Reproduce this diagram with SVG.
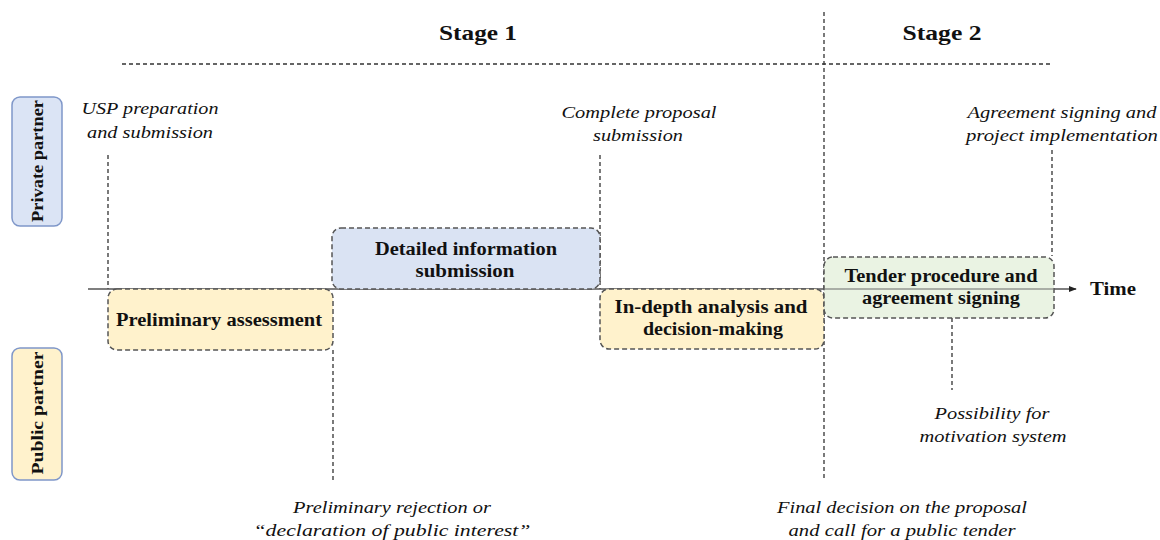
<svg xmlns="http://www.w3.org/2000/svg" width="1160" height="540" viewBox="0 0 1160 540">
<style>
.t{font-family:"Liberation Serif","Times New Roman","DejaVu Serif",serif;fill:#111}
.b{font-weight:bold;font-size:18px;text-anchor:middle}
.i{font-style:italic;font-size:17px;text-anchor:middle}
.h{font-weight:bold;font-size:22px;text-anchor:middle}
.dl{stroke:#333;stroke-width:1.3;stroke-dasharray:4 3;fill:none}
.box{stroke:#555;stroke-width:1.5;stroke-dasharray:5 3}
.lane{stroke:#7f97c9;stroke-width:1.5}
</style>
<defs>
<marker id="arr" viewBox="0 0 10 10" refX="9" refY="5" markerWidth="8" markerHeight="8" orient="auto" markerUnits="userSpaceOnUse">
<path d="M0,1 L10,5 L0,9 z" fill="#222"/>
</marker>
</defs>
<rect width="1160" height="540" fill="#fff"/>
<text class="t h" x="478" y="40" textLength="78" lengthAdjust="spacingAndGlyphs">Stage 1</text>
<text class="t h" x="942" y="40" textLength="79" lengthAdjust="spacingAndGlyphs">Stage 2</text>
<g id="connectors">
<line class="dl" x1="122" y1="64" x2="1052" y2="64"/>
<line class="dl" x1="824" y1="12" x2="824" y2="478"/>
<line class="dl" x1="108" y1="155" x2="108" y2="289"/>
<line class="dl" x1="600" y1="155" x2="600" y2="289"/>
<line class="dl" x1="1052" y1="150" x2="1052" y2="256"/>
<line class="dl" x1="333" y1="350" x2="333" y2="480"/>
<line class="dl" x1="952" y1="318" x2="952" y2="390"/>
<line x1="88" y1="289" x2="1076" y2="289" stroke="#555" stroke-width="1.3" marker-end="url(#arr)"/>
</g>
<g id="private-partner">
<rect class="lane" x="12" y="97" width="50" height="129" rx="8" fill="#dbe4f5"/>
<text class="t" font-weight="bold" font-size="17" text-anchor="middle" textLength="122" lengthAdjust="spacingAndGlyphs" transform="translate(43,161) rotate(-90)">Private partner</text>
</g>
<g id="public-partner">
<rect class="lane" x="12" y="348" width="50" height="132" rx="8" fill="#fff2cc"/>
<text class="t" font-weight="bold" font-size="17" text-anchor="middle" textLength="123" lengthAdjust="spacingAndGlyphs" transform="translate(43,413) rotate(-90)">Public partner</text>
</g>
<g id="preliminary-assessment">
<rect class="box" x="108" y="289" width="225" height="61" rx="9" fill="#fff2cc"/>
<text class="t b" x="219" y="326" textLength="206" lengthAdjust="spacingAndGlyphs">Preliminary assessment</text>
</g>
<g id="detailed-information">
<rect class="box" x="332" y="228" width="268" height="61" rx="9" fill="#dae3f3"/>
<text class="t b" x="466" y="255" textLength="182" lengthAdjust="spacingAndGlyphs">Detailed information</text>
<text class="t b" x="465" y="277" textLength="99" lengthAdjust="spacingAndGlyphs">submission</text>
</g>
<g id="in-depth-analysis">
<rect class="box" x="600" y="289" width="224" height="60" rx="9" fill="#fff2cc"/>
<text class="t b" x="711" y="313" textLength="193" lengthAdjust="spacingAndGlyphs">In-depth analysis and</text>
<text class="t b" x="713" y="335" textLength="140" lengthAdjust="spacingAndGlyphs">decision-making</text>
</g>
<g id="tender-procedure">
<rect class="box" x="824" y="257" width="230" height="61" rx="9" fill="#e8f2e0" fill-opacity="0.9"/>
<text class="t b" x="941" y="282" textLength="193" lengthAdjust="spacingAndGlyphs">Tender procedure and</text>
<text class="t b" x="941" y="304" textLength="158" lengthAdjust="spacingAndGlyphs">agreement signing</text>
</g>
<line x1="824" y1="289" x2="1054" y2="289" stroke="#777" stroke-width="1"/>
<text class="t" x="1113" y="295" font-weight="bold" font-size="18" text-anchor="middle" textLength="46" lengthAdjust="spacingAndGlyphs">Time</text>
<g id="labels">
<text class="t i" x="150" y="114" textLength="137" lengthAdjust="spacingAndGlyphs">USP preparation</text>
<text class="t i" x="150" y="138" textLength="126" lengthAdjust="spacingAndGlyphs">and submission</text>
<text class="t i" x="639" y="118" textLength="155" lengthAdjust="spacingAndGlyphs">Complete proposal</text>
<text class="t i" x="638" y="141" textLength="90" lengthAdjust="spacingAndGlyphs">submission</text>
<text class="t i" x="1062" y="118" textLength="189" lengthAdjust="spacingAndGlyphs">Agreement signing and</text>
<text class="t i" x="1062" y="141" textLength="192" lengthAdjust="spacingAndGlyphs">project implementation</text>
<text class="t i" x="992" y="419" textLength="115" lengthAdjust="spacingAndGlyphs">Possibility for</text>
<text class="t i" x="993" y="442" textLength="147" lengthAdjust="spacingAndGlyphs">motivation system</text>
<text class="t i" x="392" y="513" textLength="198" lengthAdjust="spacingAndGlyphs">Preliminary rejection or</text>
<text class="t i" x="392" y="536" textLength="277" lengthAdjust="spacingAndGlyphs">“declaration of public interest”</text>
<text class="t i" x="902" y="513" textLength="250" lengthAdjust="spacingAndGlyphs">Final decision on the proposal</text>
<text class="t i" x="902" y="536" textLength="227" lengthAdjust="spacingAndGlyphs">and call for a public tender</text>
</g>
</svg>
